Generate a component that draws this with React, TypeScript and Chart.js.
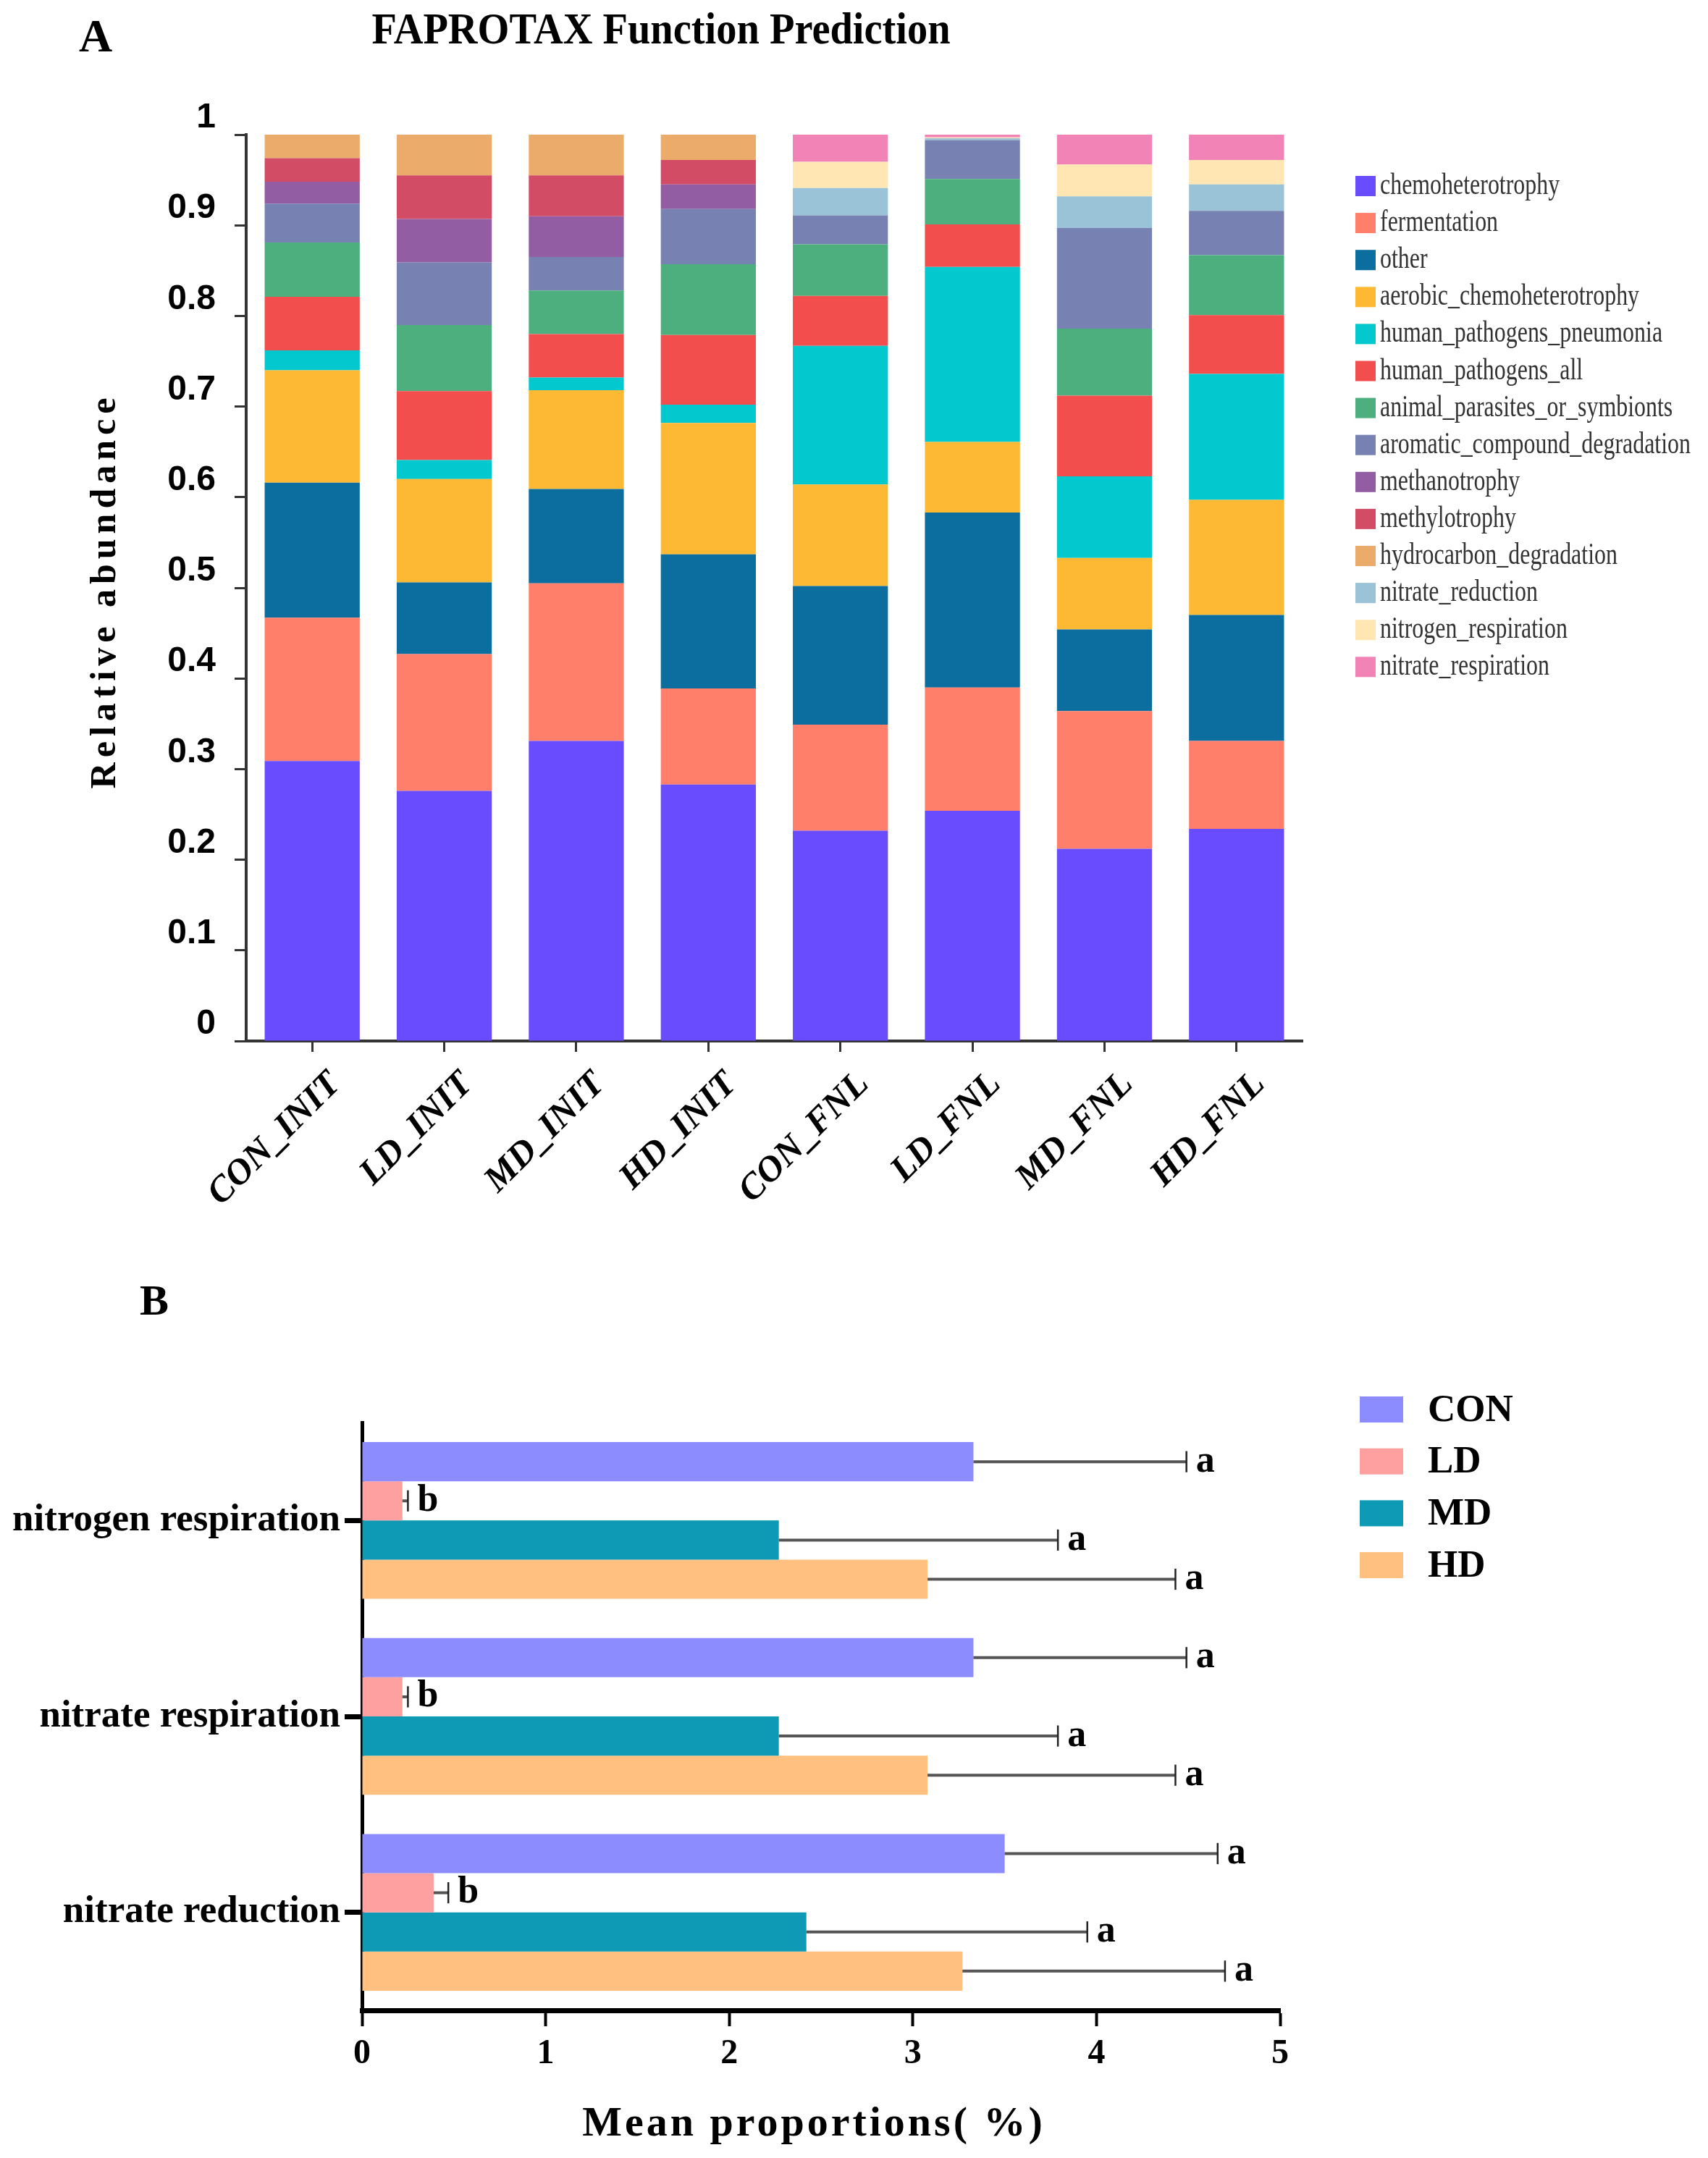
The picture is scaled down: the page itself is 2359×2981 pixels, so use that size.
import React, { useEffect, useRef } from "react";
import { Chart, registerables } from "chart.js";

Chart.register(...registerables);

const SERIF = "'Liberation Serif', 'Times New Roman', serif";
const NARROW = "'Liberation Sans Narrow', 'Arial Narrow', 'Liberation Sans', sans-serif";

// ---------- Panel A data ----------
const SAMPLES = ["CON_INIT", "LD_INIT", "MD_INIT", "HD_INIT", "CON_FNL", "LD_FNL", "MD_FNL", "HD_FNL"];
const FUNCTIONS = [
  "chemoheterotrophy",
  "fermentation",
  "other",
  "aerobic_chemoheterotrophy",
  "human_pathogens_pneumonia",
  "human_pathogens_all",
  "animal_parasites_or_symbionts",
  "aromatic_compound_degradation",
  "methanotrophy",
  "methylotrophy",
  "hydrocarbon_degradation",
  "nitrate_reduction",
  "nitrogen_respiration",
  "nitrate_respiration",
];
const FUNCTION_COLORS = [
  "#6a4cff", "#ff7f6a", "#0b6e9f", "#fdb933", "#03c8cd", "#f24e4e", "#4caf7d",
  "#7781b2", "#925da2", "#d24c66", "#ebab6b", "#9ac3d8", "#ffe6b3", "#f283b7",
];

const chemoheterotrophy = [0.309, 0.276, 0.331, 0.283, 0.232, 0.254, 0.212, 0.234];
const fermentation = [0.158, 0.151, 0.174, 0.106, 0.117, 0.136, 0.152, 0.097];
const other = [0.149, 0.079, 0.104, 0.148, 0.153, 0.193, 0.09, 0.139];
const aerobic_chemoheterotrophy = [0.124, 0.114, 0.109, 0.145, 0.112, 0.078, 0.079, 0.127];
const human_pathogens_pneumonia = [0.022, 0.021, 0.014, 0.02, 0.153, 0.193, 0.09, 0.139];
const human_pathogens_all = [0.059, 0.076, 0.048, 0.077, 0.055, 0.047, 0.089, 0.065];
const animal_parasites_or_symbionts = [0.06, 0.073, 0.048, 0.078, 0.057, 0.05, 0.074, 0.066];
const aromatic_compound_degradation = [0.043, 0.069, 0.037, 0.061, 0.032, 0.043, 0.111, 0.049];
const methanotrophy = [0.024, 0.048, 0.045, 0.027, 0, 0, 0, 0];
const methylotrophy = [0.026, 0.048, 0.045, 0.027, 0, 0, 0, 0];
const hydrocarbon_degradation = [0.026, 0.045, 0.045, 0.028, 0, 0, 0, 0];
const nitrate_reduction = [0, 0, 0, 0, 0.03, 0.002, 0.035, 0.029];
const nitrogen_respiration = [0, 0, 0, 0, 0.029, 0.001, 0.035, 0.027];
const nitrate_respiration = [0, 0, 0, 0, 0.03, 0.003, 0.033, 0.028];

const FUNCTION_VALUES = [
  chemoheterotrophy,
  fermentation,
  other,
  aerobic_chemoheterotrophy,
  human_pathogens_pneumonia,
  human_pathogens_all,
  animal_parasites_or_symbionts,
  aromatic_compound_degradation,
  methanotrophy,
  methylotrophy,
  hydrocarbon_degradation,
  nitrate_reduction,
  nitrogen_respiration,
  nitrate_respiration,
];

// ---------- Panel B data ----------
const PATHWAYS = ["nitrogen respiration", "nitrate respiration", "nitrate reduction"];
const GROUPS = ["CON", "LD", "MD", "HD"];
const GROUP_COLORS = ["#8c8cff", "#ffa0a0", "#0e9ab4", "#ffc080"];
const CON_MEAN = [3.33, 3.33, 3.5];
const CON_SD = [1.16, 1.16, 1.16];
const LD_MEAN = [0.22, 0.22, 0.39];
const LD_SD = [0.03, 0.03, 0.08];
const MD_MEAN = [2.27, 2.27, 2.42];
const MD_SD = [1.52, 1.52, 1.53];
const HD_MEAN = [3.08, 3.08, 3.27];
const HD_SD = [1.35, 1.35, 1.43];
const CON_LETTERS = ["a", "a", "a"];
const LD_LETTERS = ["b", "b", "b"];
const MD_LETTERS = ["a", "a", "a"];
const HD_LETTERS = ["a", "a", "a"];

const GROUP_MEANS = [CON_MEAN, LD_MEAN, MD_MEAN, HD_MEAN];
const GROUP_SDS = [CON_SD, LD_SD, MD_SD, HD_SD];
const GROUP_LETTERS = [CON_LETTERS, LD_LETTERS, MD_LETTERS, HD_LETTERS];

// ---------- layout ----------
const PAGE_W = 2359;
const A_H = 1720;
const B_TOP = 1720;
const B_H = 2981 - B_TOP;
const AREA_A = { left: 340, top: 186, right: 1799, bottom: 1438 };
const AREA_B = { left: 500, top: 245, right: 1768, bottom: 1057 };

type TextOpts = {
  font: string;
  color?: string;
  align?: CanvasTextAlign;
  baseline?: CanvasTextBaseline;
  scaleX?: number;
  spacing?: number;
  rotate?: number;
};

function drawText(ctx: CanvasRenderingContext2D, text: string, x: number, y: number, o: TextOpts) {
  ctx.save();
  ctx.translate(x, y);
  if (o.rotate) ctx.rotate(o.rotate);
  if (o.scaleX) ctx.scale(o.scaleX, 1);
  ctx.font = o.font;
  ctx.fillStyle = o.color ?? "#000";
  ctx.textAlign = o.align ?? "left";
  ctx.textBaseline = o.baseline ?? "middle";
  if (o.spacing && "letterSpacing" in ctx) (ctx as any).letterSpacing = o.spacing + "px";
  ctx.fillText(text, 0, 0);
  ctx.restore();
}

const panelAPlugin = {
  id: "panelA",
  afterDraw(chart: any) {
    const ctx: CanvasRenderingContext2D = chart.ctx;
    drawText(ctx, "A", 132, 54, { font: `bold 64px ${SERIF}`, align: "center" });
    drawText(ctx, "FAPROTAX Function Prediction", 913, 44, {
      font: `bold 62px ${SERIF}`,
      align: "center",
      scaleX: 0.91,
    });
    const ca = chart.chartArea;
    drawText(ctx, "Relative abundance", 146, (ca.top + ca.bottom) / 2 + 4, {
      font: `bold 50px ${SERIF}`,
      align: "center",
      rotate: -Math.PI / 2,
      spacing: 7,
    });
    chart.data.datasets.forEach((ds: any, i: number) => {
      const y = 257 + i * 51.1;
      ctx.fillStyle = ds.backgroundColor;
      ctx.fillRect(1872, y - 14, 28, 28);
      drawText(ctx, ds.label, 1906, y, { font: `42px ${SERIF}`, color: "#333", scaleX: 0.76 });
    });
  },
};

const panelBPlugin = {
  id: "panelB",
  afterDatasetsDraw(chart: any) {
    const ctx: CanvasRenderingContext2D = chart.ctx;
    const xs = chart.scales.x;
    chart.data.datasets.forEach((ds: any, i: number) => {
      const meta = chart.getDatasetMeta(i);
      meta.data.forEach((bar: any, j: number) => {
        const { x, y, height } = bar.getProps(["x", "y", "height"], true);
        const xEnd = xs.getPixelForValue(GROUP_MEANS[i][j] + GROUP_SDS[i][j]);
        ctx.save();
        ctx.strokeStyle = "#555";
        ctx.lineWidth = 4;
        ctx.beginPath();
        ctx.moveTo(x, y);
        ctx.lineTo(xEnd, y);
        ctx.stroke();
        ctx.strokeStyle = "#222";
        ctx.lineWidth = 2.5;
        ctx.beginPath();
        ctx.moveTo(xEnd, y - height * 0.27);
        ctx.lineTo(xEnd, y + height * 0.27);
        ctx.stroke();
        ctx.restore();
        drawText(ctx, GROUP_LETTERS[i][j], xEnd + 13, y, { font: `bold 52px ${SERIF}` });
      });
    });
  },
  afterDraw(chart: any) {
    const ctx: CanvasRenderingContext2D = chart.ctx;
    drawText(ctx, "B", 213, 80, { font: `bold 60px ${SERIF}`, align: "center" });
    const ca = chart.chartArea;
    drawText(ctx, "Mean proportions( %)", (ca.left + ca.right) / 2 - 10, 1215, {
      font: `bold 58px ${SERIF}`,
      align: "center",
      spacing: 4,
    });
    chart.data.datasets.forEach((ds: any, i: number) => {
      const y = 227 + i * 71.7;
      ctx.fillStyle = ds.backgroundColor;
      ctx.fillRect(1878, y - 18, 60, 36);
      drawText(ctx, ds.label, 1972, y + 2, { font: `bold 53px ${SERIF}` });
    });
  },
};

export default function App() {
  const refA = useRef<HTMLCanvasElement>(null);
  const refB = useRef<HTMLCanvasElement>(null);

  useEffect(() => {
    const chartA = new Chart(refA.current as HTMLCanvasElement, {
      type: "bar",
      data: {
        labels: SAMPLES,
        datasets: FUNCTIONS.map((name, i) => ({
          label: name,
          data: FUNCTION_VALUES[i],
          backgroundColor: FUNCTION_COLORS[i],
          borderWidth: 0,
          barPercentage: 0.72,
          categoryPercentage: 1,
        })),
      },
      options: {
        responsive: false,
        animation: false,
        layout: { padding: { left: 0, top: AREA_A.top, right: PAGE_W - AREA_A.right, bottom: 0 } },
        plugins: { legend: { display: false }, title: { display: false }, tooltip: { enabled: false } },
        scales: {
          x: {
            stacked: true,
            grid: { drawOnChartArea: false, offset: false, tickLength: 15, tickWidth: 3, tickColor: "#333" },
            border: { color: "#333", width: 4 },
            ticks: {
              autoSkip: false,
              minRotation: 45,
              maxRotation: 45,
              padding: 16,
              labelOffset: 32,
              color: "#000",
              font: { family: SERIF, size: 50, weight: "bold", style: "italic" },
            },
            afterFit: (s: any) => {
              s.height = A_H - AREA_A.bottom;
            },
          },
          y: {
            stacked: true,
            min: 0,
            max: 1,
            ticks: {
              stepSize: 0.1,
              padding: 26,
              labelOffset: -23,
              color: "#000",
              font: { family: NARROW, size: 48, weight: "bold" },
              callback: (v: any) => String(Number(Number(v).toFixed(1))),
            },
            grid: { drawOnChartArea: false, tickLength: 16, tickWidth: 3, tickColor: "#333" },
            border: { color: "#333", width: 4 },
            afterFit: (s: any) => {
              s.width = AREA_A.left;
            },
          },
        },
      } as any,
      plugins: [panelAPlugin],
    });

    const chartB = new Chart(refB.current as HTMLCanvasElement, {
      type: "bar",
      data: {
        labels: PATHWAYS,
        datasets: GROUPS.map((g, i) => ({
          label: g,
          data: GROUP_MEANS[i],
          backgroundColor: GROUP_COLORS[i],
          borderWidth: 0,
          barPercentage: 1,
          categoryPercentage: 0.8,
        })),
      },
      options: {
        indexAxis: "y",
        responsive: false,
        animation: false,
        layout: { padding: { left: 0, top: AREA_B.top, right: PAGE_W - AREA_B.right, bottom: 0 } },
        plugins: { legend: { display: false }, title: { display: false }, tooltip: { enabled: false } },
        scales: {
          x: {
            min: 0,
            max: 5,
            ticks: {
              stepSize: 1,
              padding: 10,
              color: "#000",
              font: { family: SERIF, size: 48, weight: "bold" },
            },
            grid: { drawOnChartArea: false, tickLength: 22, tickWidth: 4, tickColor: "#000" },
            border: { color: "#000", width: 7 },
            afterFit: (s: any) => {
              s.height = B_H - AREA_B.bottom;
            },
          },
          y: {
            ticks: {
              padding: 6,
              color: "#000",
              font: { family: SERIF, size: 53, weight: "bold" },
            },
            grid: { drawOnChartArea: false, offset: false, tickLength: 24, tickWidth: 7, tickColor: "#000" },
            border: { color: "#000", width: 5 },
            afterFit: (s: any) => {
              s.width = AREA_B.left;
            },
          },
        },
      } as any,
      plugins: [panelBPlugin],
    });

    return () => {
      chartA.destroy();
      chartB.destroy();
    };
  }, []);

  return (
    <div
      style={{
        position: "absolute",
        left: 0,
        top: 0,
        width: PAGE_W,
        height: 2981,
        background: "#fff",
        overflow: "hidden",
      }}
    >
      <canvas
        ref={refA}
        width={PAGE_W}
        height={A_H}
        style={{ position: "absolute", left: 0, top: 0, width: PAGE_W, height: A_H }}
      />
      <canvas
        ref={refB}
        width={PAGE_W}
        height={B_H}
        style={{ position: "absolute", left: 0, top: B_TOP, width: PAGE_W, height: B_H }}
      />
    </div>
  );
}
